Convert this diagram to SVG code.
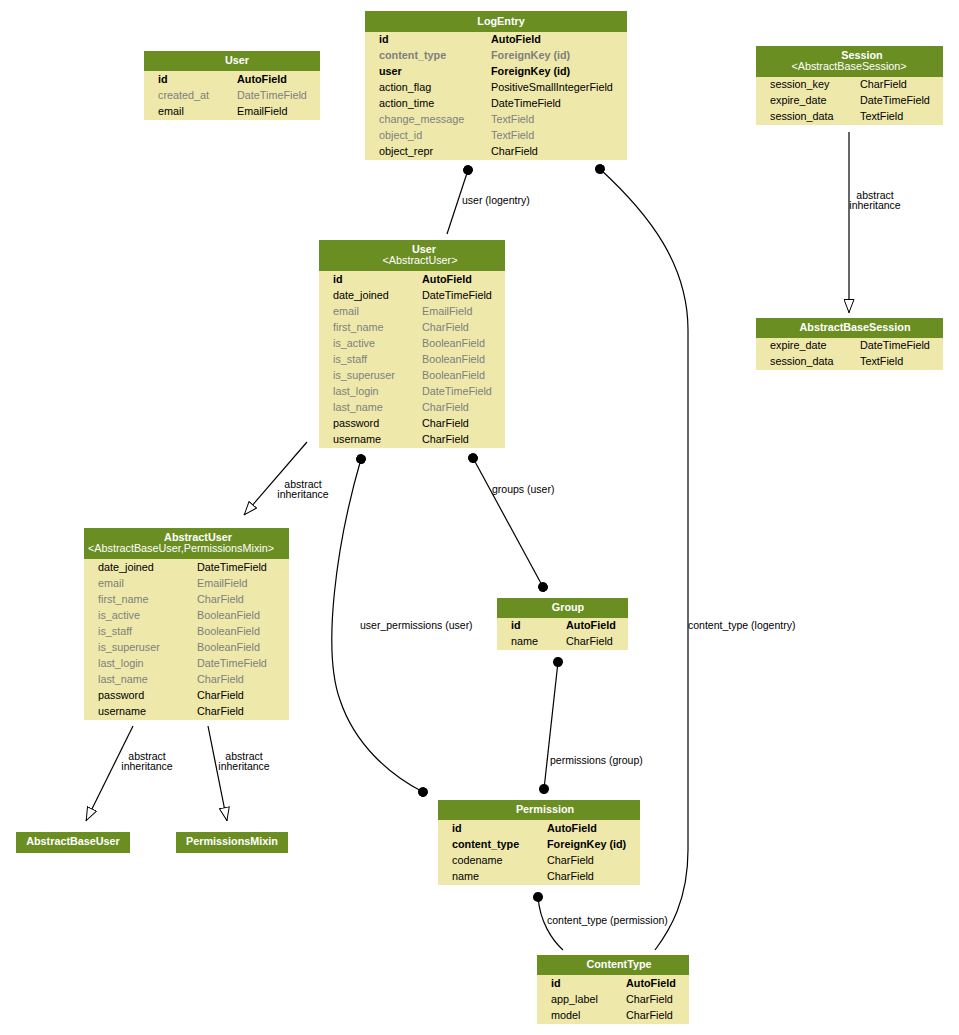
<svg xmlns="http://www.w3.org/2000/svg" width="959" height="1035" viewBox="0 0 959 1035">
<style>
  text { font-family: "Liberation Sans", Arial, sans-serif; font-size: 10.8px; fill: #000; }
  .hdr { fill: #6b8e23; }
  .body { fill: #eee8aa; }
  .title { fill: #fff; font-weight: bold; text-anchor: middle; }
  .sub { fill: #fff; text-anchor: middle; }
  .b { font-weight: bold; }
  .g { fill: #7f7f7f; }
  .edge { fill: none; stroke: #000; stroke-width: 1.2; }
  .lbl { font-size: 10.5px; }
  .lblc { font-size: 10.5px; text-anchor: middle; }
</style>
<defs>
  <marker id="dot" viewBox="0 0 10 10" refX="5" refY="5" markerWidth="10" markerHeight="10" markerUnits="userSpaceOnUse" orient="auto">
    <circle cx="5" cy="5" r="5" fill="#000"/>
  </marker>
  <marker id="tri" viewBox="0 0 14 11" refX="14" refY="5.5" markerWidth="14" markerHeight="11" markerUnits="userSpaceOnUse" orient="auto">
    <path d="M0.5,0.5 L13.5,5.5 L0.5,10.5 Z" fill="#fff" stroke="#000" stroke-width="1"/>
  </marker>
</defs>

<rect width="959" height="1035" fill="#fff"/>

<!-- relations -->
<g id="connectors">
  <path class="edge" d="M468,170 L447,234" marker-start="url(#dot)"/>
  <text class="lbl" x="462" y="204">user (logentry)</text>

  <path class="edge" d="M600,169 C650,215 688,265 688,330 L688,850 C688,900 670,930 655,950" marker-start="url(#dot)"/>
  <text class="lbl" x="688" y="629">content_type (logentry)</text>

  <path class="edge" d="M849,132 L849,313" marker-end="url(#tri)"/>
  <text class="lblc" x="875" y="199">abstract</text>
  <text class="lblc" x="875" y="209">inheritance</text>

  <path class="edge" d="M307,442 L244,515" marker-end="url(#tri)"/>
  <text class="lblc" x="303" y="488">abstract</text>
  <text class="lblc" x="303" y="498">inheritance</text>

  <path class="edge" d="M361,459 C336,545 322,650 340,700 C355,745 390,775 423,792" marker-start="url(#dot)" marker-end="url(#dot)"/>
  <text class="lbl" x="360" y="629">user_permissions (user)</text>

  <path class="edge" d="M473,458 L543,587" marker-start="url(#dot)" marker-end="url(#dot)"/>
  <text class="lbl" x="492" y="493">groups (user)</text>

  <path class="edge" d="M558,662 L544,789" marker-start="url(#dot)" marker-end="url(#dot)"/>
  <text class="lbl" x="550" y="764">permissions (group)</text>

  <path class="edge" d="M538,897 C540,922 552,940 563,950" marker-start="url(#dot)"/>
  <text class="lbl" x="547" y="924">content_type (permission)</text>

  <path class="edge" d="M133,726 L86,821" marker-end="url(#tri)"/>
  <text class="lblc" x="147" y="760">abstract</text>
  <text class="lblc" x="147" y="770">inheritance</text>

  <path class="edge" d="M208,726 L227,821" marker-end="url(#tri)"/>
  <text class="lblc" x="244" y="760">abstract</text>
  <text class="lblc" x="244" y="770">inheritance</text>
</g>

<!-- User (custom) -->
<g id="user_custom">
  <rect class="hdr" x="144" y="51" width="176" height="20"/>
  <rect class="body" x="144" y="71" width="176" height="49"/>
  <text class="title" x="237" y="64">User</text>
  <text class="b" x="158" y="83">id</text><text class="b" x="237" y="83">AutoField</text>
  <text class="g" x="158" y="99">created_at</text><text class="g" x="237" y="99">DateTimeField</text>
  <text x="158" y="115">email</text><text x="237" y="115">EmailField</text>
</g>

<!-- LogEntry -->
<g id="logentry">
  <rect class="hdr" x="365" y="11" width="262" height="21"/>
  <rect class="body" x="365" y="32" width="262" height="128"/>
  <text class="title" x="501" y="25">LogEntry</text>
  <text class="b" x="379" y="43">id</text><text class="b" x="491" y="43">AutoField</text>
  <text class="b g" x="379" y="59">content_type</text><text class="b g" x="491" y="59">ForeignKey (id)</text>
  <text class="b" x="379" y="75">user</text><text class="b" x="491" y="75">ForeignKey (id)</text>
  <text x="379" y="91">action_flag</text><text x="491" y="91">PositiveSmallIntegerField</text>
  <text x="379" y="107">action_time</text><text x="491" y="107">DateTimeField</text>
  <text class="g" x="379" y="123">change_message</text><text class="g" x="491" y="123">TextField</text>
  <text class="g" x="379" y="139">object_id</text><text class="g" x="491" y="139">TextField</text>
  <text x="379" y="155">object_repr</text><text x="491" y="155">CharField</text>
</g>

<!-- Session -->
<g id="session">
  <rect class="hdr" x="756" y="46" width="187" height="31"/>
  <rect class="body" x="756" y="77" width="187" height="48"/>
  <text class="title" x="862" y="59">Session</text>
  <text class="sub" x="849" y="70">&lt;AbstractBaseSession&gt;</text>
  <text x="770" y="88">session_key</text><text x="860" y="88">CharField</text>
  <text x="770" y="104">expire_date</text><text x="860" y="104">DateTimeField</text>
  <text x="770" y="120">session_data</text><text x="860" y="120">TextField</text>
</g>

<!-- AbstractBaseSession -->
<g id="abstractbasesession">
  <rect class="hdr" x="756" y="318" width="187" height="20"/>
  <rect class="body" x="756" y="338" width="187" height="32"/>
  <text class="title" x="855" y="331">AbstractBaseSession</text>
  <text x="770" y="349">expire_date</text><text x="860" y="349">DateTimeField</text>
  <text x="770" y="365">session_data</text><text x="860" y="365">TextField</text>
</g>

<!-- User <AbstractUser> -->
<g id="user_auth">
  <rect class="hdr" x="319" y="240" width="186" height="31"/>
  <rect class="body" x="319" y="271" width="186" height="177"/>
  <text class="title" x="424" y="253">User</text>
  <text class="sub" x="420" y="264">&lt;AbstractUser&gt;</text>
  <text class="b" x="333" y="283">id</text><text class="b" x="422" y="283">AutoField</text>
  <text x="333" y="299">date_joined</text><text x="422" y="299">DateTimeField</text>
  <text class="g" x="333" y="315">email</text><text class="g" x="422" y="315">EmailField</text>
  <text class="g" x="333" y="331">first_name</text><text class="g" x="422" y="331">CharField</text>
  <text class="g" x="333" y="347">is_active</text><text class="g" x="422" y="347">BooleanField</text>
  <text class="g" x="333" y="363">is_staff</text><text class="g" x="422" y="363">BooleanField</text>
  <text class="g" x="333" y="379">is_superuser</text><text class="g" x="422" y="379">BooleanField</text>
  <text class="g" x="333" y="395">last_login</text><text class="g" x="422" y="395">DateTimeField</text>
  <text class="g" x="333" y="411">last_name</text><text class="g" x="422" y="411">CharField</text>
  <text x="333" y="427">password</text><text x="422" y="427">CharField</text>
  <text x="333" y="443">username</text><text x="422" y="443">CharField</text>
</g>

<!-- AbstractUser -->
<g id="abstractuser">
  <rect class="hdr" x="84" y="528" width="205" height="31"/>
  <rect class="body" x="84" y="559" width="205" height="161"/>
  <text class="title" x="198" y="541">AbstractUser</text>
  <text class="sub" x="181" y="552">&lt;AbstractBaseUser,PermissionsMixin&gt;</text>
  <text x="98" y="571">date_joined</text><text x="197" y="571">DateTimeField</text>
  <text class="g" x="98" y="587">email</text><text class="g" x="197" y="587">EmailField</text>
  <text class="g" x="98" y="603">first_name</text><text class="g" x="197" y="603">CharField</text>
  <text class="g" x="98" y="619">is_active</text><text class="g" x="197" y="619">BooleanField</text>
  <text class="g" x="98" y="635">is_staff</text><text class="g" x="197" y="635">BooleanField</text>
  <text class="g" x="98" y="651">is_superuser</text><text class="g" x="197" y="651">BooleanField</text>
  <text class="g" x="98" y="667">last_login</text><text class="g" x="197" y="667">DateTimeField</text>
  <text class="g" x="98" y="683">last_name</text><text class="g" x="197" y="683">CharField</text>
  <text x="98" y="699">password</text><text x="197" y="699">CharField</text>
  <text x="98" y="715">username</text><text x="197" y="715">CharField</text>
</g>

<!-- Group -->
<g id="group">
  <rect class="hdr" x="497" y="598" width="131" height="20"/>
  <rect class="body" x="497" y="618" width="131" height="32"/>
  <text class="title" x="568" y="611">Group</text>
  <text class="b" x="511" y="629">id</text><text class="b" x="566" y="629">AutoField</text>
  <text x="511" y="645">name</text><text x="566" y="645">CharField</text>
</g>

<!-- Permission -->
<g id="permission">
  <rect class="hdr" x="438" y="800" width="202" height="20"/>
  <rect class="body" x="438" y="820" width="202" height="65"/>
  <text class="title" x="545" y="813">Permission</text>
  <text class="b" x="452" y="832">id</text><text class="b" x="547" y="832">AutoField</text>
  <text class="b" x="452" y="848">content_type</text><text class="b" x="547" y="848">ForeignKey (id)</text>
  <text x="452" y="864">codename</text><text x="547" y="864">CharField</text>
  <text x="452" y="880">name</text><text x="547" y="880">CharField</text>
</g>

<!-- ContentType -->
<g id="contenttype">
  <rect class="hdr" x="537" y="955" width="152" height="20"/>
  <rect class="body" x="537" y="975" width="152" height="49"/>
  <text class="title" x="619" y="968">ContentType</text>
  <text class="b" x="551" y="987">id</text><text class="b" x="626" y="987">AutoField</text>
  <text x="551" y="1003">app_label</text><text x="626" y="1003">CharField</text>
  <text x="551" y="1019">model</text><text x="626" y="1019">CharField</text>
</g>

<!-- AbstractBaseUser -->
<g id="abstractbaseuser">
  <rect class="hdr" x="16" y="832" width="114" height="21"/>
  <text class="title" x="73" y="845">AbstractBaseUser</text>
</g>

<!-- PermissionsMixin -->
<g id="permissionsmixin">
  <rect class="hdr" x="176" y="832" width="112" height="21"/>
  <text class="title" x="232" y="845">PermissionsMixin</text>
</g>
</svg>
